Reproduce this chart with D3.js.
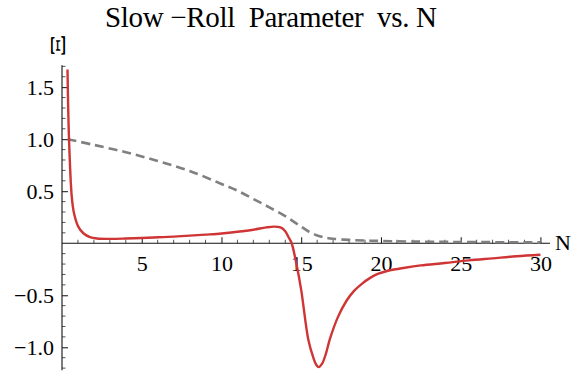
<!DOCTYPE html>
<html>
<head>
<meta charset="utf-8">
<script src="https://cdn.jsdelivr.net/npm/d3@7/dist/d3.min.js"></script>
<style>
  html, body { margin: 0; padding: 0; background: #fff; }
  svg { display: block; }
  text { font-family: "Liberation Serif", "DejaVu Serif", serif; fill: #000; }
</style>
</head>
<body>
<svg id="chart" width="577" height="377"></svg>
<script>
// Slow-roll parameter Ξ (solid red) and the reference quantity (dashed gray) against e-folds N
const xiN = [0.345, 0.44, 0.61, 0.75, 1.02, 1.34, 1.76, 2.2, 3, 4, 5, 6, 7, 8, 9, 10, 11, 12, 12.8, 13.3, 13.7, 14.0, 14.2, 14.4, 14.7, 15.0, 15.45, 15.76, 15.95, 16.1, 16.3, 16.55, 16.8, 17.3, 17.85, 18.3, 18.8, 19.3, 19.8, 20.5, 21.5, 22.5, 24, 25.5, 27, 28.5, 30];
const xiValues = [1.67, 1.0, 0.45, 0.29, 0.16, 0.096, 0.058, 0.045, 0.042, 0.045, 0.05, 0.057, 0.064, 0.073, 0.083, 0.094, 0.11, 0.13, 0.152, 0.16, 0.152, 0.115, 0.06, 0.0, -0.2, -0.45, -0.93, -1.10, -1.17, -1.19, -1.16, -1.06, -0.92, -0.71, -0.55, -0.46, -0.39, -0.335, -0.295, -0.262, -0.235, -0.213, -0.19, -0.165, -0.145, -0.125, -0.11];

const refN = [0.35, 2, 4, 6, 8, 10, 11, 12, 13, 14, 14.5, 15, 15.5, 16, 16.5, 17, 18, 19, 20, 22, 25, 30];
const refValues = [1.0, 0.945, 0.875, 0.79, 0.695, 0.57, 0.505, 0.425, 0.345, 0.26, 0.21, 0.16, 0.11, 0.075, 0.055, 0.043, 0.032, 0.026, 0.022, 0.016, 0.012, 0.008];

const xMajorTicks = [5, 10, 15, 20, 25, 30];
const yMajorTicks = [-1.0, -0.5, 0.5, 1.0, 1.5];
const yTickLabels = ["\u22121.0", "\u22120.5", "0.5", "1.0", "1.5"];

const titleText = "Slow \u2212Roll  Parameter  vs. N";

const svg = d3.select("#chart");

const x = d3.scaleLinear().domain([0, 30.6]).range([62, 550]);
const y = d3.scaleLinear().domain([-1.22, 1.71]).range([370.2, 65.3]);

const x0 = x(0), y0 = y(0);

// Minor ticks
const xMinor = d3.range(1, 31).filter(v => v % 5 !== 0);
const yMinor = d3.range(-12, 18).map(v => v / 10).filter(v => Math.abs(v * 10) % 5 !== 0);

const gAxes = svg.append("g");

gAxes.selectAll("line.xminor").data(xMinor).join("line")
  .attr("x1", d => x(d)).attr("x2", d => x(d))
  .attr("y1", y0).attr("y2", y0 - 3.5)
  .attr("stroke", "#555").attr("stroke-width", 1);

gAxes.selectAll("line.yminor").data(yMinor).join("line")
  .attr("x1", x0).attr("x2", x0 + 3.5)
  .attr("y1", d => y(d)).attr("y2", d => y(d))
  .attr("stroke", "#555").attr("stroke-width", 1);

// Major ticks and labels via d3 axes
const xAxis = d3.axisBottom(x).tickValues(xMajorTicks).tickSize(-6).tickPadding(12)
  .tickFormat(d3.format("d"));
const gx = svg.append("g").attr("transform", `translate(0,${y0})`).call(xAxis);
gx.select(".domain").remove();
gx.selectAll(".tick line").attr("stroke", "#111");
gx.selectAll(".tick text")
  .style("font-family", '"Liberation Serif", serif')
  .style("font-size", "22px").attr("fill", "#000");

const yAxis = d3.axisLeft(y).tickValues(yMajorTicks).tickSize(-6).tickPadding(8)
  .tickFormat((d, i) => yTickLabels[i]);
const gy = svg.append("g").attr("transform", `translate(${x0},0)`).call(yAxis);
gy.select(".domain").remove();
gy.selectAll(".tick line").attr("stroke", "#111");
gy.selectAll(".tick text")
  .style("font-family", '"Liberation Serif", serif')
  .style("font-size", "22px").attr("fill", "#000");

// Axis lines
svg.append("line")
  .attr("x1", x.range()[0]).attr("x2", x.range()[1])
  .attr("y1", y0).attr("y2", y0)
  .attr("stroke", "#111").attr("stroke-width", 1.1);
svg.append("line")
  .attr("x1", x0).attr("x2", x0)
  .attr("y1", y.range()[1]).attr("y2", y.range()[0])
  .attr("stroke", "#111").attr("stroke-width", 1.1);

// Curves
const line = d3.line()
  .x(d => x(d[0])).y(d => y(d[1]))
  .curve(d3.curveCatmullRom.alpha(0.5));

svg.append("path")
  .datum(d3.zip(refN, refValues))
  .attr("d", line)
  .attr("fill", "none")
  .attr("stroke", "#808080")
  .attr("stroke-width", 2.6)
  .attr("stroke-dasharray", "9,5");

svg.append("path")
  .datum(d3.zip(xiN, xiValues))
  .attr("d", line)
  .attr("fill", "none")
  .attr("stroke", "#cf3535")
  .attr("stroke-width", 2.4)
  .attr("stroke-linejoin", "round");

// Title and axis labels
svg.append("text")
  .attr("x", 271).attr("y", 27)
  .attr("text-anchor", "middle")
  .attr("textLength", 332).attr("lengthAdjust", "spacing")
  .style("font-size", "29px")
  .style("white-space", "pre")
  .text(titleText);

svg.append("text")
  .attr("transform", "translate(58,45.5) rotate(-90) scale(1.6,1)")
  .attr("text-anchor", "middle")
  .attr("dominant-baseline", "central")
  .style("font-size", "22px")
  .text("\u039E");

svg.append("text")
  .attr("x", 555).attr("y", 250)
  .style("font-size", "22px")
  .text("N");
</script>
</body>
</html>
